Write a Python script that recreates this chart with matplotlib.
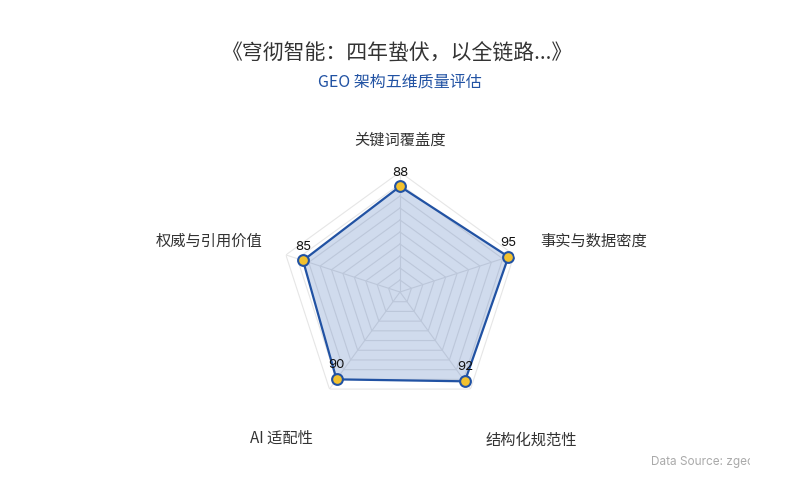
import numpy as np
import matplotlib
matplotlib.use("Agg")
import matplotlib.pyplot as plt
from matplotlib.transforms import Bbox, TransformedBbox

plt.rcParams['font.family'] = ['Noto Sans CJK SC', 'DejaVu Sans']

# 数据
title = "《穹彻智能：四年蛰伏，以全链路...》"
subtitle = "GEO 架构五维质量评估"
indicators = ["关键词覆盖度", "事实与数据密度", "结构化规范性", "AI 适配性", "权威与引用价值"]
scores = [88, 95, 92, 90, 85]
max_score = 100
source = "Data Source: zgeo"

W, H = 800, 500
fig = plt.figure(figsize=(W / 100, H / 100), dpi=100)
fig.patch.set_facecolor("white")

# 雷达中心 (400, 292) px，半径 120 px
cx, cy, R = 400, 292, 120
ax = fig.add_axes([(cx - R) / W, 1 - (cy + R) / H, 2 * R / W, 2 * R / H], projection="polar")
ax.set_theta_zero_location("N")
ax.set_theta_direction(-1)
ax.set_ylim(0, max_score)
ax.axis("off")

n = len(indicators)
theta = np.linspace(0, 2 * np.pi, n, endpoint=False)
theta_c = np.append(theta, theta[0])

# 五边形网格
grid_col = "#e6e6e6"
for lvl in np.arange(10, max_score + 1, 10):
    ax.plot(theta_c, [lvl] * (n + 1), color=grid_col, lw=0.8, zorder=1)
for t in theta:
    ax.plot([t, t], [0, max_score], color=grid_col, lw=0.8, zorder=1)

vals = np.append(scores, scores[0])
line_col = "#2152a3"
ax.fill(theta_c, vals, color="#2a5bb0", alpha=0.22, zorder=2, lw=0)
ax.plot(theta_c, vals, color=line_col, lw=1.6, zorder=3)
ax.scatter(theta, scores, s=60, color="#f2c12e", edgecolor=line_col, linewidth=1.5, zorder=4)

for t, v in zip(theta, scores):
    ax.annotate(str(v), (t, v), xytext=(0, 10), textcoords="offset points",
                ha="center", va="center", fontsize=9.5, color="#111111", zorder=5,
                family=["Inter", "DejaVu Sans"])

# 指标名称（像素位置）
def ftext(x, y, s, **kw):
    return fig.text(x / W, 1 - y / H, s, **kw)

lab_kw = dict(fontsize=11, color="#333333", va="center")
ftext(400, 140, indicators[0], ha="center", **lab_kw)
ftext(540, 241, indicators[1], ha="left", **lab_kw)
ftext(486, 440, indicators[2], ha="left", **lab_kw)
ftext(313, 438, indicators[3], ha="right", **lab_kw)
ftext(262, 241, indicators[4], ha="right", **lab_kw)

# 标题
ftext(398, 53, title, ha="center", va="center", fontsize=15, color="#333333")
ftext(400, 82, subtitle, ha="center", va="center", fontsize=11.5, color="#2152a3")

t = ftext(651, 462, source, ha="left", va="center", fontsize=8.5, color="#aaaaaa",
          family=["Inter", "DejaVu Sans"])
t.set_clip_box(TransformedBbox(Bbox([[0, 0], [750 / W, 1]]), fig.transFigure))
t.set_clip_on(True)

fig.savefig("out.png", dpi=100)
